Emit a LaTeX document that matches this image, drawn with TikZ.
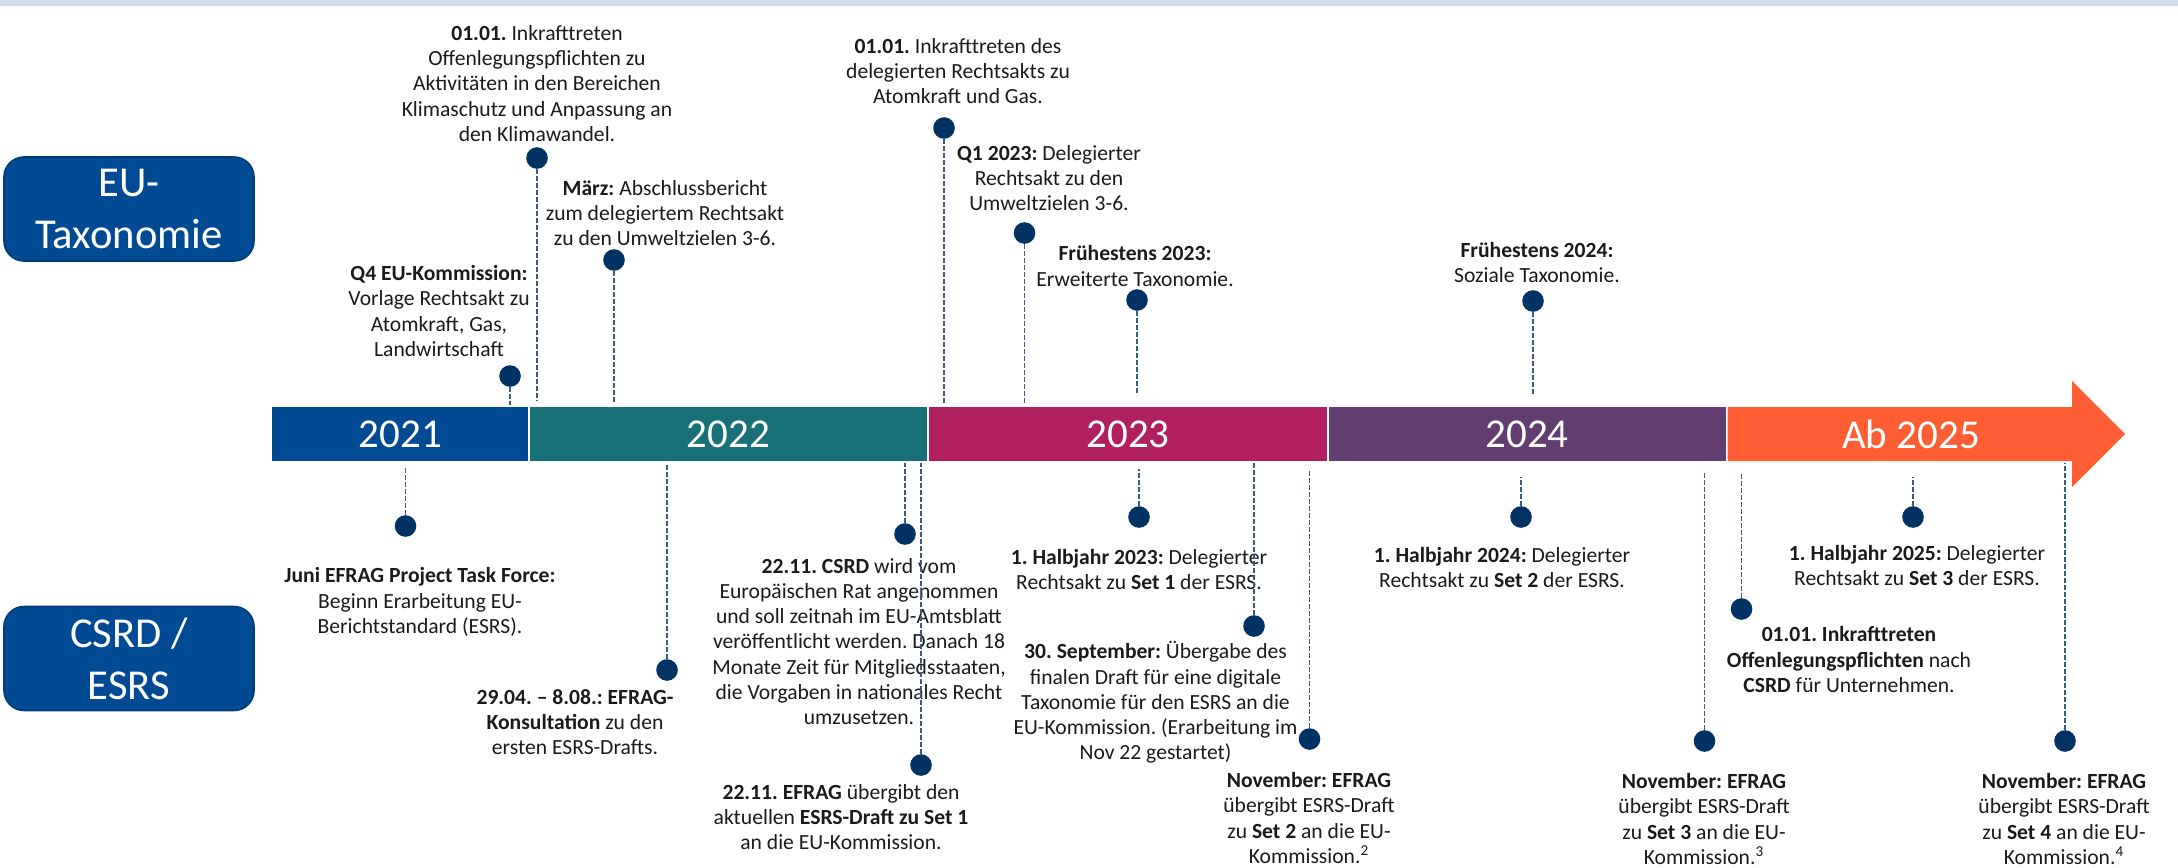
\documentclass[tikz,border=0pt]{standalone}
\usepackage{fontspec}
\setmainfont{Carlito}
\usepackage{xcolor}
\usetikzlibrary{calc}
\usetikzlibrary{positioning}

\definecolor{band}{RGB}{207,221,236}
\definecolor{eublue}{RGB}{0,74,148}
\definecolor{tealbar}{RGB}{24,112,121}
\definecolor{magbar}{RGB}{176,31,96}
\definecolor{purpbar}{RGB}{99,60,113}
\definecolor{orangebar}{RGB}{255,94,53}
\definecolor{dotblue}{RGB}{0,50,100}
\definecolor{dashblue}{RGB}{60,92,136}
\definecolor{ink}{RGB}{26,26,26}
\frenchspacing

\begin{document}
\begin{tikzpicture}[x=0.5pt,y=-0.5pt,
	ev/.style={align=center,inner sep=0pt,text=ink,font=\fontsize{10.8}{12.6}\selectfont},
	evdot/.style={circle,fill=dotblue,inner sep=0pt,minimum size=10.8pt},
	evline/.style={dashblue,line width=0.9pt,dash pattern=on 2.2pt off 1.3pt},
	yearlabel/.style={text=white,inner sep=0pt,font=\fontsize{20.5}{24}\selectfont},
	sidebox/.style={rounded corners=10pt,fill=eublue,draw=eublue!80!black,line width=0.8pt,text=white,align=center,minimum width=125pt,minimum height=52pt,font=\fontsize{21.3}{26}\selectfont}]
		\useasboundingbox (0,0) rectangle (2178,867);
		\fill[band] (0,0) rectangle (2178,6);
		\coordinate (bartop) at (0,405);
		\coordinate (barbot) at (0,463);
		
		\node[sidebox] (taxbox) at (129,209) {EU-\\Taxonomie};
		\node[sidebox] (csrdbox) at (129,658.5) {CSRD /\\ESRS};
		
		\fill[eublue] (272,407) rectangle (528,461);
		\fill[tealbar] (530,407) rectangle (927,461);
		\fill[magbar] (929,407) rectangle (1326.5,461);
		\fill[purpbar] (1328.5,407) rectangle (1725.5,461);
		\fill[orangebar] (1727.5,407) -- (2072,407) -- (2072,381) -- (2125,434) -- (2072,487) -- (2072,461) -- (1727.5,461) -- cycle;
		\node[yearlabel] (y21) at (400.5,434) {2021};
		\node[yearlabel] (y22) at (728.5,434) {2022};
		\node[yearlabel] (y23) at (1128,434) {2023};
		\node[yearlabel] (y24) at (1527,434) {2024};
		\node[yearlabel] (y25) at (1911,434) {Ab 2025};
		
		\node[ev] (tax1) at (439,311) {\textbf{Q4 EU-Kommission:}\\Vorlage Rechtsakt zu\\Atomkraft, Gas,\\Landwirtschaft};
		\node[ev] (tax2) at (537,83.5) {\textbf{01.01.} Inkrafttreten\\Offenlegungspflichten zu\\Aktivitäten in den Bereichen\\Klimaschutz und Anpassung an\\den Klimawandel.};
		\node[ev] (tax3) at (665,213) {\textbf{März:} Abschlussbericht\\zum delegiertem Rechtsakt\\zu den Umweltzielen 3-6.};
		\node[ev] (tax4) at (958,71) {\textbf{01.01.} Inkrafttreten des\\delegierten Rechtsakts zu\\Atomkraft und Gas.};
		\node[ev] (tax5) at (1049,178) {\textbf{Q1 2023:} Delegierter\\Rechtsakt zu den\\Umweltzielen 3-6.};
		\node[ev] (tax6) at (1135,266) {\textbf{Frühestens 2023:}\\Erweiterte Taxonomie.};
		\node[ev] (tax7) at (1537,262.5) {\textbf{Frühestens 2024:}\\Soziale Taxonomie.};
		
		\node[evdot] (taxdot1) at (510,376) {};
		\node[evdot] (taxdot2) at (537,158) {};
		\node[evdot] (taxdot3) at (614,260) {};
		\node[evdot] (taxdot4) at (944,128) {};
		\node[evdot] (taxdot5) at (1024.5,233) {};
		\node[evdot] (taxdot6) at (1137,300) {};
		\node[evdot] (taxdot7) at (1533,301) {};
		
		\draw[evline] (taxdot1) -- (taxdot1 |- bartop);
		\draw[evline,shorten >=2pt] (taxdot2) -- (taxdot2 |- bartop);
		\draw[evline,shorten >=1.5pt] (taxdot3) -- (taxdot3 |- bartop);
		\draw[evline] (taxdot4) -- (taxdot4 |- bartop);
		\draw[evline] (taxdot5) -- (taxdot5 |- bartop);
		\draw[evline,shorten >=5pt] (taxdot6) -- (taxdot6 |- bartop);
		\draw[evline,shorten >=4.5pt] (taxdot7) -- (taxdot7 |- bartop);
		
		\node[ev] (csrd1) at (420,602) {\textbf{Juni EFRAG Project Task Force:}\\Beginn Erarbeitung EU-\\Berichtstandard (ESRS).};
		\node[ev] (csrd2) at (575,722) {\textbf{29.04. – 8.08.: EFRAG-}\\\textbf{Konsultation} zu den\\ersten ESRS-Drafts.};
		\node[ev] (csrd3) at (859,641.5) {\textbf{22.11. CSRD} wird vom\\Europäischen Rat angenommen\\und soll zeitnah im EU-Amtsblatt\\veröffentlicht werden. Danach 18\\Monate Zeit für Mitgliedsstaaten,\\die Vorgaben in nationales Recht\\umzusetzen.};
		\node[ev] (csrd4) at (841,817) {\textbf{22.11. EFRAG} übergibt den\\aktuellen \textbf{ESRS-Draft zu Set 1}\\an die EU-Kommission.};
		\node[ev] (csrd5) at (1139,569.5) {\textbf{1. Halbjahr 2023:} Delegierter\\Rechtsakt zu \textbf{Set 1} der ESRS.};
		\node[ev] (csrd6) at (1155.5,702.5) {\textbf{30. September:} Übergabe des\\finalen Draft für eine digitale\\Taxonomie für den ESRS an die\\EU-Kommission. (Erarbeitung im\\Nov 22 gestartet)};
		\node[ev] (csrd7) at (1309,818) {\textbf{November: EFRAG}\\übergibt ESRS-Draft\\zu \textbf{Set 2} an die EU-\\Kommission.\textsuperscript{2}};
		\node[ev] (csrd8) at (1502,567.5) {\textbf{1. Halbjahr 2024:} Delegierter\\Rechtsakt zu \textbf{Set 2} der ESRS.};
		\node[ev] (csrd9) at (1704,819) {\textbf{November: EFRAG}\\übergibt ESRS-Draft\\zu \textbf{Set 3} an die EU-\\Kommission.\textsuperscript{3}};
		\node[ev] (csrd10) at (1849,659.5) {\textbf{01.01. Inkrafttreten}\\\textbf{Offenlegungspflichten} nach\\\textbf{CSRD} für Unternehmen.};
		\node[ev] (csrd11) at (1917,565.5) {\textbf{1. Halbjahr 2025:} Delegierter\\Rechtsakt zu \textbf{Set 3} der ESRS.};
		\node[ev] (csrd12) at (2064,819) {\textbf{November: EFRAG}\\übergibt ESRS-Draft\\zu \textbf{Set 4} an die EU-\\Kommission.\textsuperscript{4}};
		
		\node[evdot] (csrddot1) at (405.5,526) {};
		\node[evdot] (csrddot2) at (667,670) {};
		\node[evdot] (csrddot3) at (905,534) {};
		\node[evdot] (csrddot4) at (921,765) {};
		\node[evdot] (csrddot5) at (1139,517) {};
		\node[evdot] (csrddot6) at (1254,626) {};
		\node[evdot] (csrddot7) at (1309.5,739) {};
		\node[evdot] (csrddot8) at (1521,517) {};
		\node[evdot] (csrddot9) at (1704.5,741) {};
		\node[evdot] (csrddot10) at (1741.5,609) {};
		\node[evdot] (csrddot11) at (1913,517) {};
		\node[evdot] (csrddot12) at (2065,741) {};
		
		\draw[evline,shorten >=2pt] (csrddot1) -- (csrddot1 |- barbot);
		\draw[evline,shorten >=1pt] (csrddot2) -- (csrddot2 |- barbot);
		\draw[evline] (csrddot3) -- (csrddot3 |- barbot);
		\draw[evline] (csrddot4) -- (csrddot4 |- barbot);
		\draw[evline,shorten >=3pt] (csrddot5) -- (csrddot5 |- barbot);
		\draw[evline] (csrddot6) -- (csrddot6 |- barbot);
		\draw[evline,shorten >=3.5pt] (csrddot7) -- (csrddot7 |- barbot);
		\draw[evline,shorten >=7pt] (csrddot8) -- (csrddot8 |- barbot);
		\draw[evline,shorten >=4.5pt] (csrddot9) -- (csrddot9 |- barbot);
		\draw[evline,shorten >=5.5pt] (csrddot10) -- (csrddot10 |- barbot);
		\draw[evline,shorten >=7pt] (csrddot11) -- (csrddot11 |- barbot);
		\draw[evline] (csrddot12) -- (csrddot12 |- barbot);
	\end{tikzpicture}
\end{document}
